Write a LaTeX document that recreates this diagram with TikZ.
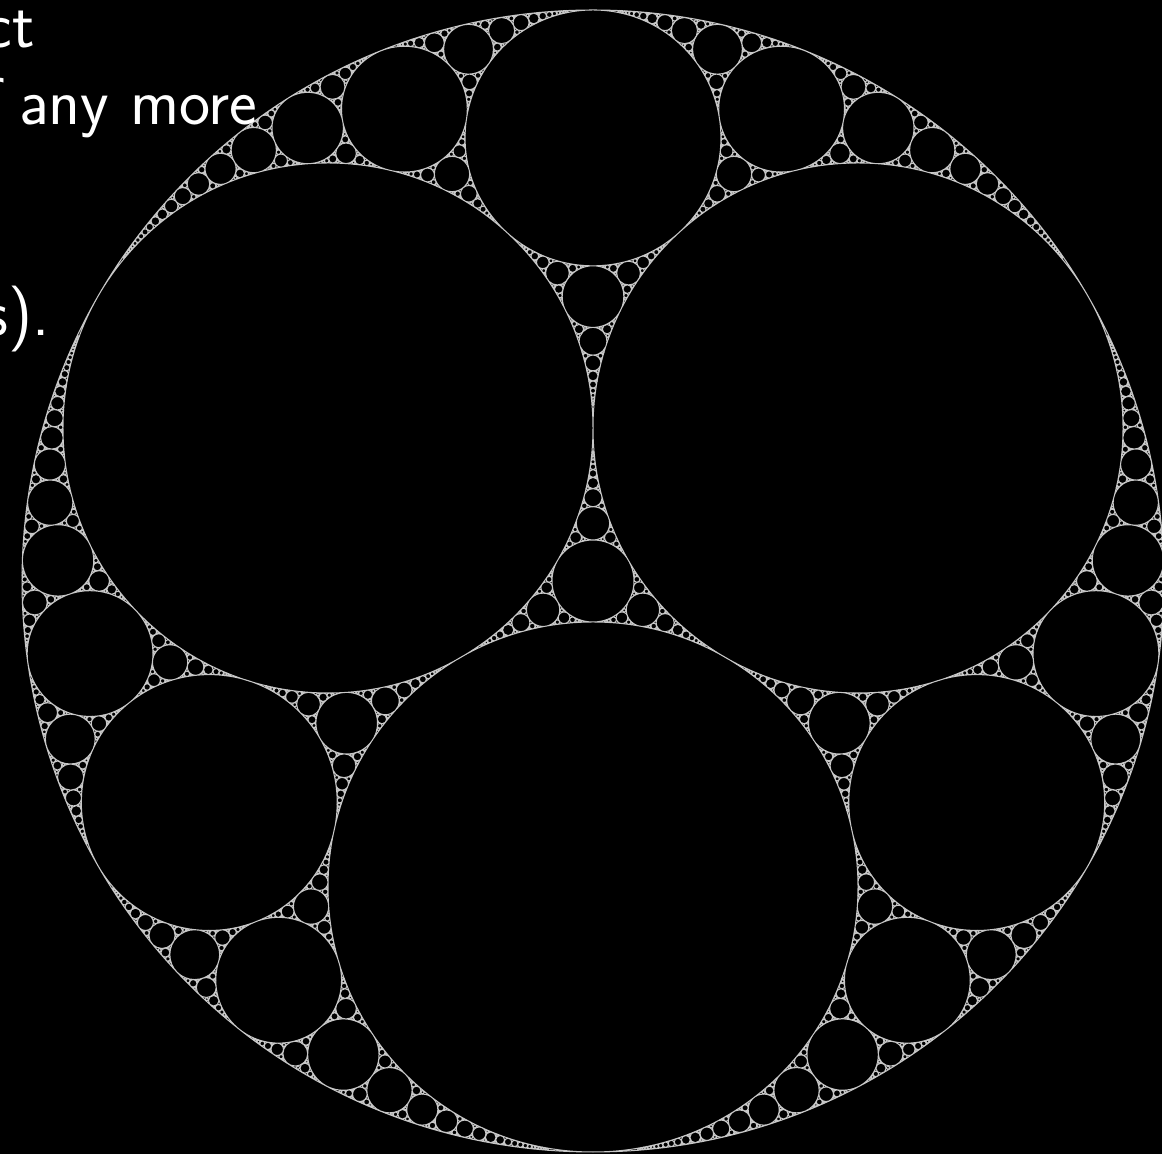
\documentclass[tikz,border=0pt]{standalone}
\usepackage{fontspec}
\definecolor{gasketgray}{gray}{0.78}
\ExplSyntaxOn
\fp_new:N \l_ap_k_fp
\fp_new:N \l_ap_r_fp
\fp_new:N \l_ap_d_fp
\tl_new:N \l_ap_O_tl
\tl_new:N \l_ap_A_tl
\tl_new:N \l_ap_B_tl
\tl_new:N \l_ap_C_tl
\fp_const:Nn \c_ap_kmax_fp { 1 / 1.0 }
\cs_new_protected:Npn \ap_draw:nnn #1#2#3
  {
    \pgfpathcircle
      { \pgfqpoint { \fp_eval:n { (#2) / (#1) } pt } { \fp_eval:n { (#3) / (#1) } pt } }
      { \fp_eval:n { abs( 1 / (#1) ) } pt }
  }
\cs_new_protected:Npn \ap_new:nnnnnnn #1#2#3#4#5#6#7
  {
    \ap_draw:nnn {#1} {#2} {#3}
    \ap_gen:nnnn {#4} {#5} { {#1} {#2} {#3} } {#6}
    \ap_gen:nnnn {#4} {#6} { {#1} {#2} {#3} } {#5}
    \ap_gen:nnnn {#5} {#6} { {#1} {#2} {#3} } {#4}
  }
\cs_generate_variant:Nn \ap_new:nnnnnnn { xxx }
\cs_new_protected:Npn \ap_gen:nnnn #1#2#3#4
  {
    \fp_set:Nn \l_ap_k_fp
      { 2 * ( ( \use_i:nnn #1 ) + ( \use_i:nnn #2 ) + ( \use_i:nnn #3 ) ) - ( \use_i:nnn #4 ) }
    \fp_compare:nNnT \l_ap_k_fp < \c_ap_kmax_fp
      {
        \ap_new:xxxnnnn
          { \fp_use:N \l_ap_k_fp }
          { \fp_eval:n { 2 * ( ( \use_ii:nnn #1 ) + ( \use_ii:nnn #2 ) + ( \use_ii:nnn #3 ) ) - ( \use_ii:nnn #4 ) } }
          { \fp_eval:n { 2 * ( ( \use_iii:nnn #1 ) + ( \use_iii:nnn #2 ) + ( \use_iii:nnn #3 ) ) - ( \use_iii:nnn #4 ) } }
          {#1} {#2} {#3} {#4}
      }
  }
\cs_generate_variant:Nn \ap_gen:nnnn { VVVV }
\cs_new_protected:Npn \ap_start:nnn #1#2#3
  {
    \fp_set:Nn \l_ap_r_fp { (#3) / ( 1 + 2 / sqrt(3) ) }
    \fp_set:Nn \l_ap_d_fp { (#3) - \l_ap_r_fp }
    \tl_set:Nx \l_ap_O_tl
      { { \fp_eval:n { -1 / (#3) } } { \fp_eval:n { -(#1) / (#3) } } { \fp_eval:n { -(#2) / (#3) } } }
    \tl_set:Nx \l_ap_A_tl
      { { \fp_eval:n { 1 / \l_ap_r_fp } }
        { \fp_eval:n { ( (#1) - \l_ap_d_fp * sqrt(3) / 2 ) / \l_ap_r_fp } }
        { \fp_eval:n { ( (#2) + \l_ap_d_fp / 2 ) / \l_ap_r_fp } } }
    \tl_set:Nx \l_ap_B_tl
      { { \fp_eval:n { 1 / \l_ap_r_fp } }
        { \fp_eval:n { ( (#1) + \l_ap_d_fp * sqrt(3) / 2 ) / \l_ap_r_fp } }
        { \fp_eval:n { ( (#2) + \l_ap_d_fp / 2 ) / \l_ap_r_fp } } }
    \tl_set:Nx \l_ap_C_tl
      { { \fp_eval:n { 1 / \l_ap_r_fp } }
        { \fp_eval:n { (#1) / \l_ap_r_fp } }
        { \fp_eval:n { ( (#2) - \l_ap_d_fp ) / \l_ap_r_fp } } }
    \exp_last_unbraced:NV \ap_draw:nnn \l_ap_O_tl
    \exp_last_unbraced:NV \ap_draw:nnn \l_ap_A_tl
    \exp_last_unbraced:NV \ap_draw:nnn \l_ap_B_tl
    \exp_last_unbraced:NV \ap_draw:nnn \l_ap_C_tl
    \ap_gen:VVVV \l_ap_O_tl \l_ap_A_tl \l_ap_B_tl \l_ap_C_tl
    \ap_gen:VVVV \l_ap_O_tl \l_ap_A_tl \l_ap_C_tl \l_ap_B_tl
    \ap_gen:VVVV \l_ap_O_tl \l_ap_B_tl \l_ap_C_tl \l_ap_A_tl
    \ap_gen:VVVV \l_ap_A_tl \l_ap_B_tl \l_ap_C_tl \l_ap_O_tl
  }
\NewDocumentCommand \ApGasket { m m m } { \ap_start:nnn {#1} {#2} {#3} }
\ExplSyntaxOff
\tikzset{slidetext/.style={text=white, inner sep=0pt, font=\sffamily\fontsize{66}{79}\selectfont}}
\begin{document}
\begin{tikzpicture}[x=1pt,y=1pt]
\useasboundingbox (0,0) rectangle (1162,1154);
\fill[black] (0,0) rectangle (1162,1154);
\clip (0,0) rectangle (1162,1154);
\begin{pgfscope}
\pgfsetlinewidth{1pt}
\pgfsetstrokecolor{gasketgray}
\ApGasket{593}{573}{571}
\pgfusepath{stroke}
\end{pgfscope}
\node[slidetext, anchor=base east] (ct) at (35,1106) {ct};
\node[slidetext, anchor=base west] (anymore) at (19,1029) {any more};
\node[slidetext, anchor=base east, xshift=-17pt] (of) at (anymore.base west) {of};
\node[slidetext, anchor=base east] (s) at (50,818) {s).};
\end{tikzpicture}
\end{document}
